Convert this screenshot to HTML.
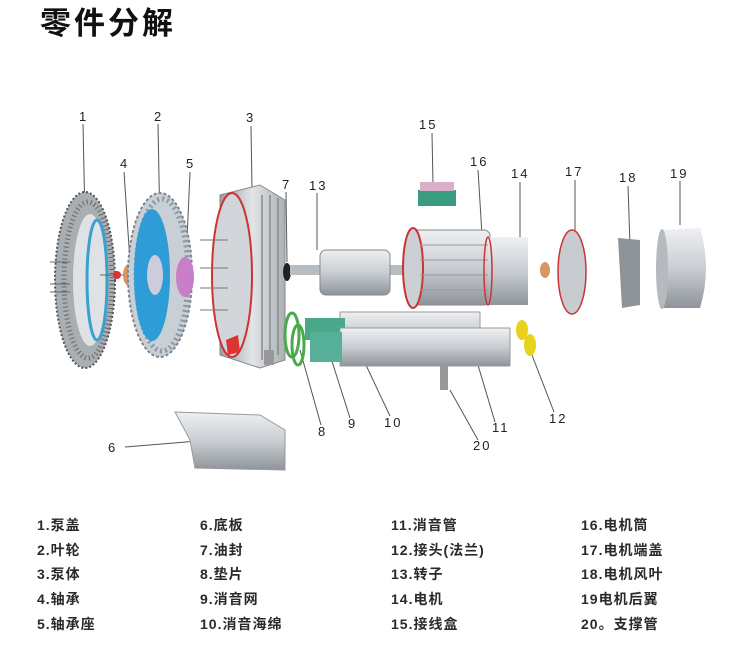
<!DOCTYPE html>
<html><head><meta charset="utf-8">
<style>
body{margin:0;width:745px;height:651px;background:#fff;overflow:hidden;position:relative;font-family:"Liberation Sans","Noto Sans CJK SC",sans-serif}
.t{position:absolute;left:40px;top:-2px;font-size:31px;font-weight:bold;color:#111;letter-spacing:3px;font-family:"Noto Sans CJK SC",sans-serif}
.lg{position:absolute;font-size:14px;color:#2a2a2a;letter-spacing:1px;white-space:nowrap;font-weight:bold}
svg{position:absolute;left:0;top:0}
</style></head><body>
<div class="t">零件分解</div>
<svg width="745" height="500" viewBox="0 0 745 500">
<defs>
<linearGradient id="g" x1="0" y1="0" x2="0" y2="1"><stop offset="0" stop-color="#eef0f2"/><stop offset=".5" stop-color="#c9ced3"/><stop offset="1" stop-color="#8e949a"/></linearGradient>
<linearGradient id="gh" x1="0" y1="0" x2="1" y2="0"><stop offset="0" stop-color="#9aa0a6"/><stop offset=".5" stop-color="#e2e5e8"/><stop offset="1" stop-color="#aab0b5"/></linearGradient>
</defs>
<g font-family="Liberation Sans" font-size="13" fill="#222" letter-spacing="2">
<text x="79" y="121">1</text><text x="154" y="121">2</text><text x="246" y="122">3</text>
<text x="120" y="168">4</text><text x="186" y="168">5</text><text x="282" y="189">7</text>
<text x="309" y="190">13</text><text x="419" y="129">15</text><text x="470" y="166">16</text>
<text x="511" y="178">14</text><text x="565" y="176">17</text><text x="619" y="182">18</text>
<text x="670" y="178">19</text><text x="108" y="452">6</text><text x="318" y="436">8</text>
<text x="348" y="428">9</text><text x="384" y="427">10</text><text x="492" y="432">11</text>
<text x="549" y="423">12</text><text x="473" y="450">20</text>
</g>
<g stroke="#555" stroke-width="1">
<line x1="83" y1="124" x2="85" y2="220"/><line x1="158" y1="124" x2="160" y2="230"/>
<line x1="251" y1="126" x2="252" y2="190"/><line x1="124" y1="172" x2="130" y2="262"/>
<line x1="190" y1="172" x2="186" y2="262"/><line x1="286" y1="192" x2="287" y2="262"/>
<line x1="317" y1="193" x2="317" y2="250"/><line x1="432" y1="133" x2="433" y2="185"/>
<line x1="478" y1="170" x2="482" y2="235"/><line x1="520" y1="182" x2="520" y2="240"/>
<line x1="575" y1="180" x2="575" y2="230"/><line x1="628" y1="186" x2="630" y2="245"/>
<line x1="680" y1="181" x2="680" y2="225"/><line x1="125" y1="447" x2="210" y2="440"/>
<line x1="321" y1="425" x2="300" y2="350"/><line x1="350" y1="418" x2="330" y2="355"/>
<line x1="390" y1="416" x2="365" y2="363"/><line x1="495" y1="422" x2="478" y2="365"/>
<line x1="554" y1="412" x2="530" y2="350"/><line x1="478" y1="440" x2="450" y2="390"/>
</g>
<!-- part 1 -->
<ellipse cx="85" cy="280" rx="30" ry="88" fill="#a9aeb3" stroke="#555" stroke-width="2" stroke-dasharray="2 2"/>
<ellipse cx="88" cy="280" rx="24" ry="78" fill="none" stroke="#666" stroke-width="5" stroke-dasharray="1 3"/>
<ellipse cx="90" cy="280" rx="17" ry="66" fill="#dfe2e5"/>
<ellipse cx="97" cy="280" rx="10" ry="60" fill="none" stroke="#3aa0d0" stroke-width="3"/>
<line x1="50" y1="262" x2="70" y2="262" stroke="#666"/><line x1="50" y1="284" x2="70" y2="284" stroke="#666"/><line x1="50" y1="292" x2="70" y2="292" stroke="#666"/>
<line x1="100" y1="275" x2="125" y2="275" stroke="#666"/>
<circle cx="117" cy="275" r="4" fill="#d33"/>
<ellipse cx="129" cy="275" rx="6" ry="11" fill="#d89660"/>
<!-- part 2 -->
<ellipse cx="160" cy="275" rx="32" ry="82" fill="#c8d0d6" stroke="#7a8590" stroke-width="2" stroke-dasharray="3 2"/>
<ellipse cx="162" cy="275" rx="26" ry="76" fill="none" stroke="#8c98a2" stroke-width="5" stroke-dasharray="2 3"/>
<ellipse cx="152" cy="275" rx="18" ry="66" fill="#2e9cd6"/>
<ellipse cx="155" cy="275" rx="8" ry="20" fill="#ccd"/>
<ellipse cx="185" cy="277" rx="9" ry="20" fill="#c87ec8"/>
<!-- part 3 -->
<path d="M220 195 L260 185 L285 200 L285 360 L260 368 L220 355 Z" fill="url(#gh)" stroke="#888"/>
<ellipse cx="232" cy="275" rx="20" ry="82" fill="#d2d6da" stroke="#c33" stroke-width="2"/>
<g stroke="#888" stroke-width="1.5"><line x1="262" y1="195" x2="262" y2="360"/><line x1="270" y1="195" x2="270" y2="360"/><line x1="278" y1="198" x2="278" y2="355"/></g>
<g stroke="#777"><line x1="200" y1="240" x2="228" y2="240"/><line x1="200" y1="268" x2="228" y2="268"/><line x1="200" y1="288" x2="228" y2="288"/><line x1="200" y1="310" x2="228" y2="310"/></g>
<path d="M226 340 L238 335 L240 352 L228 355 Z" fill="#d33"/>
<rect x="264" y="350" width="10" height="15" fill="#999"/>
<!-- 7 -->
<ellipse cx="287" cy="272" rx="4" ry="9" fill="#222"/>
<!-- 13 rotor -->
<rect x="290" y="265" width="150" height="10" fill="#b8bdc2"/>
<rect x="320" y="250" width="70" height="45" rx="6" fill="url(#g)" stroke="#888"/>
<!-- 14 motor -->
<rect x="410" y="230" width="80" height="75" rx="6" fill="url(#g)" stroke="#888"/>
<ellipse cx="413" cy="268" rx="10" ry="40" fill="#ccd0d4" stroke="#c33" stroke-width="2"/>
<g stroke="#999"><line x1="420" y1="245" x2="488" y2="245"/><line x1="420" y1="260" x2="488" y2="260"/><line x1="420" y1="275" x2="488" y2="275"/><line x1="420" y1="290" x2="488" y2="290"/></g>
<rect x="488" y="237" width="40" height="68" fill="url(#g)"/>
<ellipse cx="488" cy="271" rx="4" ry="34" fill="none" stroke="#c33" stroke-width="1.5"/>
<!-- 15 -->
<rect x="418" y="190" width="38" height="16" fill="#3a9c80"/>
<rect x="420" y="182" width="34" height="9" fill="#d9b0c9"/>
<!-- 8 9 10 11 -->
<ellipse cx="292" cy="335" rx="7" ry="22" fill="none" stroke="#4aaa4a" stroke-width="3"/>
<ellipse cx="298" cy="345" rx="6" ry="20" fill="none" stroke="#4aaa4a" stroke-width="3"/>
<rect x="340" y="312" width="140" height="40" fill="url(#g)" stroke="#999"/>
<rect x="305" y="318" width="40" height="22" fill="#4aa88a"/>
<rect x="340" y="328" width="170" height="38" fill="url(#g)" stroke="#999"/>
<rect x="310" y="332" width="32" height="30" fill="#56b098"/>
<rect x="440" y="365" width="8" height="25" fill="#999"/>
<ellipse cx="522" cy="330" rx="6" ry="10" fill="#e8d21a"/>
<ellipse cx="530" cy="345" rx="6" ry="11" fill="#e8d21a"/>
<!-- 17 18 19 -->
<ellipse cx="545" cy="270" rx="5" ry="8" fill="#d89660"/>
<ellipse cx="572" cy="272" rx="14" ry="42" fill="#c8ccd0" stroke="#c33" stroke-width="1.5"/>
<path d="M618 238 L640 240 L640 305 L622 308 Z" fill="#8e9398"/>
<path d="M660 230 L700 228 Q712 268 700 308 L660 308 Z" fill="url(#g)"/>
<ellipse cx="662" cy="269" rx="6" ry="40" fill="#b5babf"/>
<!-- 6 base -->
<path d="M175 412 L260 415 L285 430 L285 470 L195 468 L190 440 Z" fill="url(#g)" stroke="#999"/>
</svg>
<div class="lg" style="left:37px;top:515px">1.泵盖</div>
<div class="lg" style="left:37px;top:540px">2.叶轮</div>
<div class="lg" style="left:37px;top:564px">3.泵体</div>
<div class="lg" style="left:37px;top:589px">4.轴承</div>
<div class="lg" style="left:37px;top:614px">5.轴承座</div>
<div class="lg" style="left:200px;top:515px">6.底板</div>
<div class="lg" style="left:200px;top:540px">7.油封</div>
<div class="lg" style="left:200px;top:564px">8.垫片</div>
<div class="lg" style="left:200px;top:589px">9.消音网</div>
<div class="lg" style="left:200px;top:614px">10.消音海绵</div>
<div class="lg" style="left:391px;top:515px">11.消音管</div>
<div class="lg" style="left:391px;top:540px">12.接头(法兰)</div>
<div class="lg" style="left:391px;top:564px">13.转子</div>
<div class="lg" style="left:391px;top:589px">14.电机</div>
<div class="lg" style="left:391px;top:614px">15.接线盒</div>
<div class="lg" style="left:581px;top:515px">16.电机筒</div>
<div class="lg" style="left:581px;top:540px">17.电机端盖</div>
<div class="lg" style="left:581px;top:564px">18.电机风叶</div>
<div class="lg" style="left:581px;top:589px">19电机后翼</div>
<div class="lg" style="left:581px;top:614px">20。支撑管</div>
</body></html>
